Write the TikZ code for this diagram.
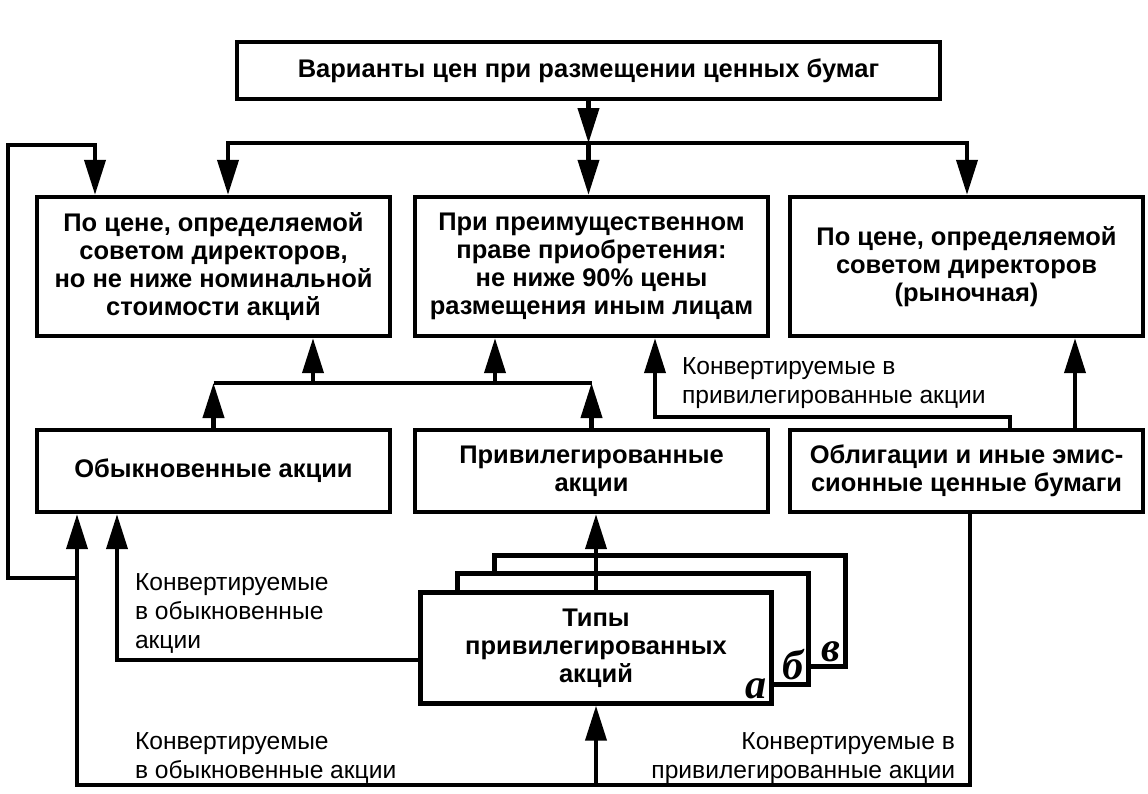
\documentclass[tikz,border=0pt]{standalone}
\usepackage{fontspec}
\setmainfont{Liberation Sans}
\newfontfamily\letfont{Liberation Serif}
\usetikzlibrary{arrows.meta,positioning}

\begin{document}
\begin{tikzpicture}[x=0.2mm,y=-0.2mm,on grid,line width=2.3pt,
	>={Triangle[length=7mm,width=4.2mm]},
	block/.style={draw,line width=2.5pt,fill=white,minimum width=70.6mm,minimum height=27.8mm,
		align=center,inner sep=0pt,font=\fontsize{14.5}{16}\selectfont\bfseries},
	paper/.style={block,minimum height=16.4mm},
	kind/.style={block,minimum width=70.2mm,minimum height=22.2mm},
	note/.style={inner sep=0pt,font=\fontsize{14}{16.5}\selectfont},
	idx/.style={inner sep=1mm,font=\letfont\bfseries\itshape\fontsize{24}{24}\selectfont}]
	\useasboundingbox (0,0) rectangle (1148,793);

	\node[block,minimum width=140.6mm,minimum height=11.4mm] (v_0) at (588.5,70.5) {Варианты цен при размещении ценных бумаг};

	\node[block] (p_1) at (213.5,266.5) {По цене, определяемой\\советом директоров,\\но не ниже номинальной\\стоимости акций};
	\node[block] (p_2) [right=75.6mm of p_1] {При преимущественном\\праве приобретения:\\не ниже 90\% цены\\размещения иным лицам};
	\node[block] (p_3) [right=75mm of p_2] {По цене, определяемой\\советом директоров\\(рыночная)};

	\node[paper] (s_1) [below=40.9mm of p_1] {Обыкновенные акции};
	\node[paper] (s_2) [below=40.9mm of p_2] {Привилегированные\\акции};
	\node[paper] (s_3) [below=40.9mm of p_3] {Облигации и иные эмис-\\сионные ценные бумаги};

	\node[kind] (t_c) at (670,611) {};
	\node[kind] (t_b) [below left=3.6mm and 7.4mm of t_c] {};
	\node[kind] (t_a) [below left=3.8mm and 7.4mm of t_b] {Типы\\привилегированных\\акций};
	\node[idx,anchor=south east] (l_a) at (t_a.south east) {а};
	\node[idx,anchor=south east] (l_b) at (t_b.south east) {б};
	\node[idx,anchor=south east] (l_c) at (t_c.south east) {в};

	\node[note,anchor=north west,align=left] (n_up) at (680,356) {Конвертируемые в\\привилегированные акции};
	\node[note,anchor=north west,align=left] (n_mid) at (133,572) {Конвертируемые\\в обыкновенные\\акции};
	\node[note,anchor=north west,align=left] (n_low) at (133,731) {Конвертируемые\\в обыкновенные акции};
	\node[note,anchor=north east,align=right] (n_right) at (957,731) {Конвертируемые в\\привилегированные акции};

	\coordinate (j_l) at (228,143);
	\coordinate (j_r) at (967,143);
	\coordinate (k_1) at (77,578);
	\coordinate (k_2) at (8,145);
	\coordinate (k_3) at (95,145);
	\coordinate (m_1) at (313,383);
	\coordinate (m_2) at (495,383);
	\coordinate (n_1) at (1075,400);
	\coordinate (n_2) at (1010,417);
	\coordinate (n_3) at (655,417);
	\coordinate (c_1) at (117,660);
	\coordinate (b_l) at (77,785);
	\coordinate (b_r) at (970,785);

	\draw[->] (v_0) -- (v_0 |- j_l);
	\draw[<->] (j_l |- p_1.north) -- (j_l) -- (j_r) -- (j_r |- p_3.north);
	\draw[->] (v_0 |- j_l) -- (v_0 |- p_2.north);
	\draw[->] (k_1) -| (k_2) -- (k_3) -- (k_3 |- p_1.north);

	\draw[->] (s_1) -- (s_1 |- m_1);
	\draw[->] (s_2) -- (s_2 |- m_1);
	\draw (s_1 |- m_1) -- (s_2 |- m_1);
	\draw[->] (m_1) -- (m_1 |- p_1.south);
	\draw[->] (m_2) -- (m_2 |- p_2.south);

	\draw[->] (n_1 |- s_3.north) -- (n_1 |- p_3.south);
	\draw[->] (n_2 |- s_3.north) -- (n_2) -- (n_3) -- (n_3 |- p_2.south);

	\draw[->] (t_a.north) -- (t_a.north |- s_2.south);
	\draw[->] (c_1 -| t_a.west) -- (c_1) -- (c_1 |- s_1.south);
	\draw[->] (b_r |- s_3.south) -- (b_r) -- (b_l) -- (b_l |- s_1.south);
	\draw[->] (t_a.south |- b_l) -- (t_a.south);
\end{tikzpicture}
\end{document}
